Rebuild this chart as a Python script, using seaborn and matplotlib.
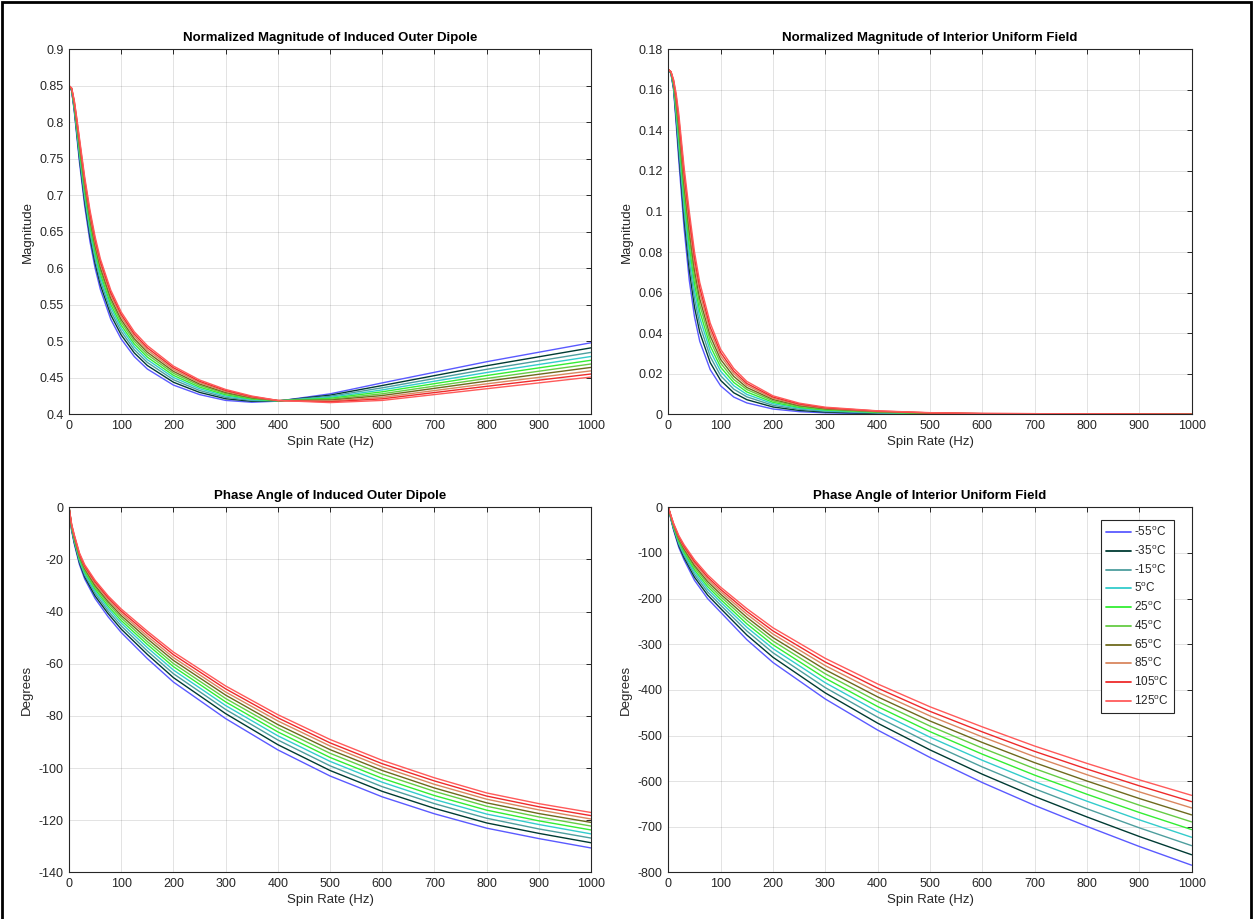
import matplotlib
matplotlib.use("Agg")
import matplotlib.pyplot as plt
import seaborn as sns
import pandas as pd
from matplotlib.patches import Rectangle

# temperatures (legend order) and their line colours
TEMP_LABELS = ["-55$^{\\rm o}$C", "-35$^{\\rm o}$C", "-15$^{\\rm o}$C", "5$^{\\rm o}$C", "25$^{\\rm o}$C",
               "45$^{\\rm o}$C", "65$^{\\rm o}$C", "85$^{\\rm o}$C", "105$^{\\rm o}$C", "125$^{\\rm o}$C"]
COLORS = ["#5a5aff", "#003b33", "#4d9e9e", "#33cccc", "#33ee33",
          "#66cc44", "#6e6a1e", "#d9875f", "#ee2b2b", "#ff5a5a"]

# spin rate samples (Hz) for each panel
HZ_OUTER_MAG = [0, 5, 10, 15, 20, 30, 40, 50, 60, 80, 100, 125, 150, 200, 250, 300, 350, 400, 500, 600, 800, 1000]
HZ_INNER_MAG = [0, 5, 10, 15, 20, 30, 40, 50, 60, 80, 100, 125, 150, 200, 250, 300, 400, 500, 600, 1000]
HZ_PHASE = [0, 5, 10, 20, 30, 50, 75, 100, 150, 200, 300, 400, 500, 600, 700, 800, 900, 1000]

# normalized magnitude of induced outer dipole, one row per temperature
OUTER_MAG = [
    [0.850, 0.843, 0.815, 0.780, 0.745, 0.685, 0.637, 0.600, 0.571, 0.530, 0.503, 0.479, 0.462, 0.440, 0.427, 0.419, 0.4165, 0.418, 0.428, 0.443, 0.472, 0.498],
    [0.850, 0.8436, 0.8173, 0.7838, 0.7500, 0.6910, 0.6435, 0.6065, 0.5773, 0.5360, 0.5086, 0.4841, 0.4668, 0.4439, 0.4300, 0.4213, 0.4178, 0.4182, 0.4262, 0.4394, 0.4665, 0.4910],
    [0.850, 0.8441, 0.8192, 0.7870, 0.7542, 0.6962, 0.6490, 0.6120, 0.5828, 0.5412, 0.5134, 0.4885, 0.4710, 0.4473, 0.4326, 0.4232, 0.4189, 0.4183, 0.4246, 0.4363, 0.4616, 0.4848],
    [0.850, 0.8446, 0.8210, 0.7900, 0.7582, 0.7010, 0.6542, 0.6172, 0.5878, 0.5460, 0.5178, 0.4926, 0.4748, 0.4504, 0.4350, 0.4250, 0.4199, 0.4184, 0.4232, 0.4334, 0.4572, 0.4792],
    [0.850, 0.8450, 0.8227, 0.7928, 0.7618, 0.7054, 0.6589, 0.6219, 0.5924, 0.5504, 0.5219, 0.4963, 0.4783, 0.4533, 0.4372, 0.4267, 0.4208, 0.4185, 0.4219, 0.4308, 0.4531, 0.4740],
    [0.850, 0.8455, 0.8243, 0.7955, 0.7655, 0.7098, 0.6637, 0.6267, 0.5970, 0.5548, 0.5259, 0.5001, 0.4818, 0.4561, 0.4394, 0.4283, 0.4218, 0.4186, 0.4206, 0.4281, 0.4491, 0.4689],
    [0.850, 0.8459, 0.8258, 0.7980, 0.7688, 0.7138, 0.6680, 0.6310, 0.6012, 0.5588, 0.5296, 0.5035, 0.4850, 0.4587, 0.4414, 0.4298, 0.4226, 0.4187, 0.4194, 0.4257, 0.4454, 0.4642],
    [0.850, 0.8463, 0.8273, 0.8005, 0.7721, 0.7178, 0.6723, 0.6353, 0.6054, 0.5628, 0.5333, 0.5069, 0.4882, 0.4613, 0.4434, 0.4313, 0.4235, 0.4188, 0.4182, 0.4233, 0.4417, 0.4595],
    [0.850, 0.8466, 0.8287, 0.8028, 0.7750, 0.7214, 0.6761, 0.6391, 0.6092, 0.5664, 0.5367, 0.5099, 0.4911, 0.4637, 0.4452, 0.4327, 0.4242, 0.4189, 0.4171, 0.4212, 0.4383, 0.4552],
    [0.850, 0.847, 0.830, 0.805, 0.778, 0.725, 0.680, 0.643, 0.613, 0.570, 0.540, 0.513, 0.494, 0.466, 0.447, 0.434, 0.425, 0.419, 0.416, 0.419, 0.435, 0.451],
]

# normalized magnitude of interior uniform field
INNER_MAG = [
    [0.170, 0.168, 0.160, 0.143, 0.125, 0.092, 0.066, 0.048, 0.036, 0.022, 0.014, 0.0085, 0.0056, 0.0026, 0.0013, 0.0007, 0.0002, 0.00005, 0.0, 0.0],
    [0.170, 0.1682, 0.1608, 0.1453, 0.1285, 0.0965, 0.0711, 0.0528, 0.0404, 0.0255, 0.0167, 0.0106, 0.0072, 0.0036, 0.0019, 0.0011, 0.0004, 0.0002, 0.0001, 0.0],
    [0.170, 0.1683, 0.1614, 0.1472, 0.1314, 0.1004, 0.0755, 0.0570, 0.0441, 0.0284, 0.0190, 0.0124, 0.0086, 0.0044, 0.0025, 0.0015, 0.0006, 0.0003, 0.0001, 0.0],
    [0.170, 0.1684, 0.1620, 0.1490, 0.1342, 0.1040, 0.0796, 0.0608, 0.0476, 0.0312, 0.0212, 0.0141, 0.0098, 0.0052, 0.0030, 0.0018, 0.0008, 0.0004, 0.0002, 0.0],
    [0.170, 0.1685, 0.1626, 0.1507, 0.1367, 0.1073, 0.0833, 0.0643, 0.0508, 0.0337, 0.0232, 0.0157, 0.0110, 0.0059, 0.0034, 0.0021, 0.0010, 0.0004, 0.0002, 0.0],
    [0.170, 0.1686, 0.1631, 0.1523, 0.1393, 0.1106, 0.0871, 0.0678, 0.0540, 0.0363, 0.0252, 0.0172, 0.0122, 0.0066, 0.0039, 0.0024, 0.0011, 0.0005, 0.0002, 0.0],
    [0.170, 0.1687, 0.1636, 0.1538, 0.1416, 0.1136, 0.0905, 0.0710, 0.0569, 0.0386, 0.0270, 0.0187, 0.0132, 0.0073, 0.0043, 0.0027, 0.0013, 0.0006, 0.0003, 0.0],
    [0.170, 0.1688, 0.1641, 0.1553, 0.1439, 0.1166, 0.0939, 0.0742, 0.0598, 0.0409, 0.0288, 0.0201, 0.0143, 0.0079, 0.0047, 0.0030, 0.0014, 0.0007, 0.0003, 0.0],
    [0.170, 0.1689, 0.1646, 0.1567, 0.1459, 0.1193, 0.0969, 0.0771, 0.0624, 0.0429, 0.0304, 0.0213, 0.0152, 0.0085, 0.0051, 0.0032, 0.0016, 0.0007, 0.0004, 0.0],
    [0.170, 0.169, 0.165, 0.158, 0.148, 0.122, 0.100, 0.080, 0.065, 0.045, 0.032, 0.0226, 0.0162, 0.0091, 0.0055, 0.0035, 0.0017, 0.0008, 0.0004, 0.0],
]

# phase angle of induced outer dipole (degrees)
OUTER_PHASE = [
    [0, -9.0, -14.0, -22.0, -27.5, -35.0, -42.0, -48.0, -58.0, -67.0, -81.0, -93.0, -103.0, -111.0, -117.5, -123.0, -127.0, -130.6],
    [0, -8.6, -13.5, -21.3, -26.7, -34.0, -40.8, -46.7, -56.4, -65.3, -79.1, -91.0, -100.9, -108.9, -115.4, -121.0, -125.0, -128.6],
    [0, -8.3, -13.0, -20.7, -26.0, -33.0, -39.8, -45.5, -55.1, -63.8, -77.5, -89.2, -99.1, -107.1, -113.6, -119.2, -123.3, -126.8],
    [0, -8.0, -12.6, -20.2, -25.3, -32.2, -38.8, -44.4, -53.8, -62.4, -76.0, -87.6, -97.4, -105.4, -112.0, -117.6, -121.6, -125.2],
    [0, -7.7, -12.2, -19.7, -24.7, -31.4, -37.9, -43.4, -52.6, -61.1, -74.6, -86.1, -95.9, -103.9, -110.5, -116.1, -120.2, -123.7],
    [0, -7.5, -11.8, -19.2, -24.1, -30.7, -37.0, -42.4, -51.5, -59.9, -73.3, -84.6, -94.3, -102.3, -108.9, -114.6, -118.7, -122.2],
    [0, -7.2, -11.5, -18.8, -23.5, -30.0, -36.2, -41.5, -50.4, -58.7, -72.0, -83.3, -92.9, -100.9, -107.6, -113.3, -117.4, -120.8],
    [0, -7.0, -11.1, -18.3, -23.0, -29.3, -35.4, -40.6, -49.4, -57.6, -70.8, -81.9, -91.5, -99.5, -106.2, -111.9, -116.0, -119.5],
    [0, -6.7, -10.8, -17.9, -22.5, -28.6, -34.7, -39.8, -48.4, -56.5, -69.6, -80.7, -90.3, -98.3, -104.9, -110.7, -114.8, -118.2],
    [0, -6.5, -10.5, -17.5, -22.0, -28.0, -34.0, -39.0, -47.5, -55.5, -68.5, -79.5, -89.0, -97.0, -103.7, -109.5, -113.6, -117.0],
]

# phase angle of interior uniform field (degrees)
INNER_PHASE = [
    [0, -27.0, -50.0, -88.0, -115.0, -160.0, -200.0, -230.0, -290.0, -340.0, -420.0, -488.0, -548.0, -603.0, -653.0, -699.0, -743.0, -784.0],
    [0, -25.7, -47.8, -84.1, -110.1, -153.3, -192.2, -221.8, -279.8, -328.6, -406.7, -472.9, -531.4, -584.7, -633.5, -678.3, -721.1, -761.1],
    [0, -24.5, -45.8, -80.7, -105.8, -147.4, -185.4, -214.6, -271.0, -318.7, -395.1, -459.7, -516.9, -568.8, -616.6, -660.4, -702.1, -741.2],
    [0, -23.4, -44.0, -77.6, -101.8, -142.0, -179.2, -208.0, -262.8, -309.6, -384.4, -447.6, -503.6, -554.2, -601.0, -643.8, -684.6, -722.8],
    [0, -22.4, -42.4, -74.7, -98.2, -137.1, -173.5, -202.0, -255.3, -301.2, -374.6, -436.5, -491.4, -540.8, -586.7, -628.6, -668.5, -706.0],
    [0, -21.4, -40.7, -71.9, -94.5, -132.1, -167.8, -195.9, -247.8, -292.9, -364.8, -425.4, -479.2, -527.4, -572.4, -613.4, -652.5, -689.1],
    [0, -20.5, -39.2, -69.3, -91.2, -127.6, -162.6, -190.4, -241.0, -285.3, -355.9, -415.3, -468.1, -515.2, -559.4, -599.6, -637.9, -673.8],
    [0, -19.6, -37.7, -66.7, -87.9, -123.1, -157.4, -184.9, -234.2, -277.7, -347.0, -405.2, -457.0, -503.0, -546.4, -585.8, -623.3, -658.5],
    [0, -18.8, -36.4, -64.3, -85.0, -119.1, -152.7, -180.0, -228.1, -270.8, -339.0, -396.1, -447.0, -492.0, -534.7, -573.4, -610.1, -644.8],
    [0, -18.0, -35.0, -62.0, -82.0, -115.0, -148.0, -175.0, -222.0, -264.0, -331.0, -387.0, -437.0, -481.0, -523.0, -561.0, -597.0, -631.0],
]

XTICKS = list(range(0, 1001, 100))
OUTER_MAG_TICKS = [0.4, 0.45, 0.5, 0.55, 0.6, 0.65, 0.7, 0.75, 0.8, 0.85, 0.9]
OUTER_MAG_LABELS = ["0.4", "0.45", "0.5", "0.55", "0.6", "0.65", "0.7", "0.75", "0.8", "0.85", "0.9"]
INNER_MAG_TICKS = [0, 0.02, 0.04, 0.06, 0.08, 0.1, 0.12, 0.14, 0.16, 0.18]
INNER_MAG_LABELS = ["0", "0.02", "0.04", "0.06", "0.08", "0.1", "0.12", "0.14", "0.16", "0.18"]
OUTER_PHASE_TICKS = list(range(-140, 1, 20))
INNER_PHASE_TICKS = list(range(-800, 1, 100))

INK = "#262626"

sns.set_theme(style="white")
plt.rcParams["font.family"] = ["Liberation Sans", "DejaVu Sans"]
plt.rcParams["mathtext.fontset"] = "custom"
plt.rcParams["mathtext.rm"] = "Liberation Sans"
plt.rcParams["axes.unicode_minus"] = False


def long_frame(hz, rows):
    recs = []
    for temp, vals in zip(TEMP_LABELS, rows):
        for f, v in zip(hz, vals):
            recs.append({"hz": f, "value": v, "temp": temp})
    return pd.DataFrame(recs)


def draw_panel(ax, hz, rows, title, ylabel, ylim, yticks, ylabels):
    df = long_frame(hz, rows)
    sns.lineplot(data=df, x="hz", y="value", hue="temp", hue_order=TEMP_LABELS,
                 palette=COLORS, estimator=None, sort=False, linewidth=1.0,
                 legend=False, ax=ax)
    ax.set_xlim(0, 1000)
    ax.set_ylim(*ylim)
    ax.set_xticks(XTICKS)
    ax.set_yticks(yticks)
    ax.set_yticklabels(ylabels)
    ax.grid(True, color=INK, alpha=0.15, linewidth=0.6)
    ax.tick_params(direction="in", top=True, right=True, length=3.6, width=0.7,
                   colors=INK, labelsize=9, pad=4)
    for s in ax.spines.values():
        s.set_color(INK)
        s.set_linewidth(0.8)
    ax.set_title(title, fontsize=9.5, fontweight="bold", color="black", pad=6)
    ax.set_xlabel("Spin Rate (Hz)", fontsize=9.5, color=INK, labelpad=3)
    ax.set_ylabel(ylabel, fontsize=9.5, color=INK, labelpad=4)


fig = plt.figure(figsize=(12.53, 9.19), dpi=100)
ax_tl = fig.add_axes([0.0551, 0.5492, 0.4166, 0.3972])
ax_tr = fig.add_axes([0.5334, 0.5492, 0.4176, 0.3972])
ax_bl = fig.add_axes([0.0551, 0.0506, 0.4166, 0.3974])
ax_br = fig.add_axes([0.5334, 0.0506, 0.4176, 0.3974])

draw_panel(ax_tl, HZ_OUTER_MAG, OUTER_MAG, "Normalized Magnitude of Induced Outer Dipole",
           "Magnitude", (0.4, 0.9), OUTER_MAG_TICKS, OUTER_MAG_LABELS)
draw_panel(ax_tr, HZ_INNER_MAG, INNER_MAG, "Normalized Magnitude of Interior Uniform Field",
           "Magnitude", (0, 0.18), INNER_MAG_TICKS, INNER_MAG_LABELS)
draw_panel(ax_bl, HZ_PHASE, OUTER_PHASE, "Phase Angle of Induced Outer Dipole",
           "Degrees", (-140, 0), OUTER_PHASE_TICKS, [str(t) for t in OUTER_PHASE_TICKS])
draw_panel(ax_br, HZ_PHASE, INNER_PHASE, "Phase Angle of Interior Uniform Field",
           "Degrees", (-800, 0), INNER_PHASE_TICKS, [str(t) for t in INNER_PHASE_TICKS])

leg = ax_br.legend(ax_br.lines[:len(TEMP_LABELS)], TEMP_LABELS, loc="upper right",
                   bbox_to_anchor=(0.9665, 0.965), borderaxespad=0, fontsize=8.5,
                   frameon=True, fancybox=False, framealpha=1, edgecolor=INK,
                   handlelength=2.1, handletextpad=0.25, labelspacing=0.42, borderpad=0.45)
leg.get_frame().set_linewidth(0.8)
for h in leg.legend_handles:
    h.set_linewidth(1.3)

# screenshot frame round the figure
fig.patches.append(Rectangle((0.0016, -0.01), 0.9968, 1.0075, transform=fig.transFigure,
                             fill=False, edgecolor="black", linewidth=2))

fig.savefig("out.png", dpi=100, facecolor="white")
